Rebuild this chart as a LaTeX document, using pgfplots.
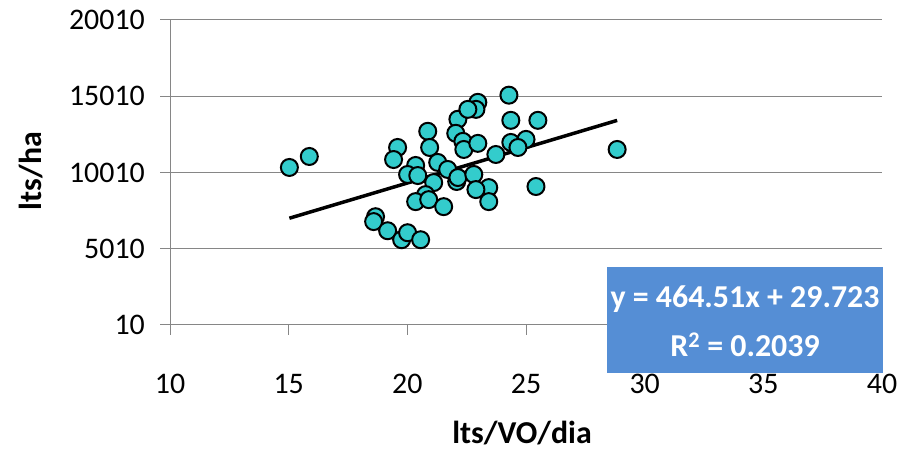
\documentclass[border=0pt]{standalone}
\usepackage{pgfplots}
\pgfplotsset{compat=1.18}
\usepackage{fontspec}
\setmainfont{Carlito}
\definecolor{mk}{RGB}{51,204,204}
\definecolor{boxblue}{RGB}{85,142,213}
\definecolor{gridgray}{RGB}{134,134,134}
\begin{document}
\begin{tikzpicture}[x=1bp,y=1bp]
\useasboundingbox (0,0) rectangle (909,450);
\begin{axis}[
  at={(170bp,125bp)}, anchor=south west,
  scale only axis, width=712bp, height=305bp,
  xmin=10, xmax=40, ymin=10, ymax=20010,
  xtick={10,15,20,25,30,35,40},
  ytick={10,5010,10010,15010,20010},
  axis x line*=bottom, axis y line*=left,
  axis line style={gridgray, line width=1bp},
  ymajorgrids, grid style={gridgray, line width=1bp},
  tick style={gridgray, line width=1bp}, tick align=outside, major tick length=10bp,
  /pgf/number format/assume math mode=true,
  scaled y ticks=false, scaled x ticks=false,
  yticklabel style={/pgf/number format/fixed, /pgf/number format/1000 sep={}, anchor=east, inner sep=0pt, xshift=-15bp, font=\fontsize{30}{36}\selectfont, text=black},
  xticklabel style={anchor=north, inner sep=0pt, yshift=-39bp, font=\fontsize{30}{36}\selectfont, text=black},
  clip=false,
]
\addplot[only marks, mark=*, mark size=8.5bp, mark options={fill=mk, draw=black, line width=2bp}] coordinates {
(15.03,10340) (15.87,11060) (19.59,11650) (19.42,10860) (20.86,12710)
(20.94,11650) (20.35,10470) (20.01,9880) (20.44,9810) (21.28,10670)
(21.70,10210) (22.08,9420) (21.11,9350) (20.77,8560) (20.35,8100)
(20.90,8230) (21.53,7770) (18.66,7110) (18.58,6790) (19.17,6190)
(19.76,5600) (20.01,6060) (20.56,5600) (22.13,13500) (22.04,12580)
(22.34,12050) (22.38,11520) (24.28,15080) (22.97,14610) (22.89,14150)
(22.55,14150) (24.36,13430) (25.50,13430) (22.97,11920) (24.36,11980)
(25.00,12180) (24.66,11650) (23.73,11190) (22.13,9680) (22.80,9880)
(23.43,9020) (22.89,8890) (23.43,8100) (25.42,9090) (28.84,11520)
};
\addplot[black, line width=3.5bp] coordinates {(15.03,7011) (28.84,13426)};
\end{axis}
\fill[boxblue] (607,77) rectangle (883,183);
\node[white, font=\bfseries\fontsize{32}{38}\selectfont] at (745,151) {y = 464.51x + 29.723};
\node[white, font=\bfseries\fontsize{32}{38}\selectfont] at (745,105) {R\textsuperscript{2} = 0.2039};
\node[rotate=90, font=\bfseries\fontsize{32}{38}\selectfont] at (31,279) {lts/ha};
\node[font=\bfseries\fontsize{32}{38}\selectfont] at (522,17) {lts/VO/dia};
\end{tikzpicture}
\end{document}
